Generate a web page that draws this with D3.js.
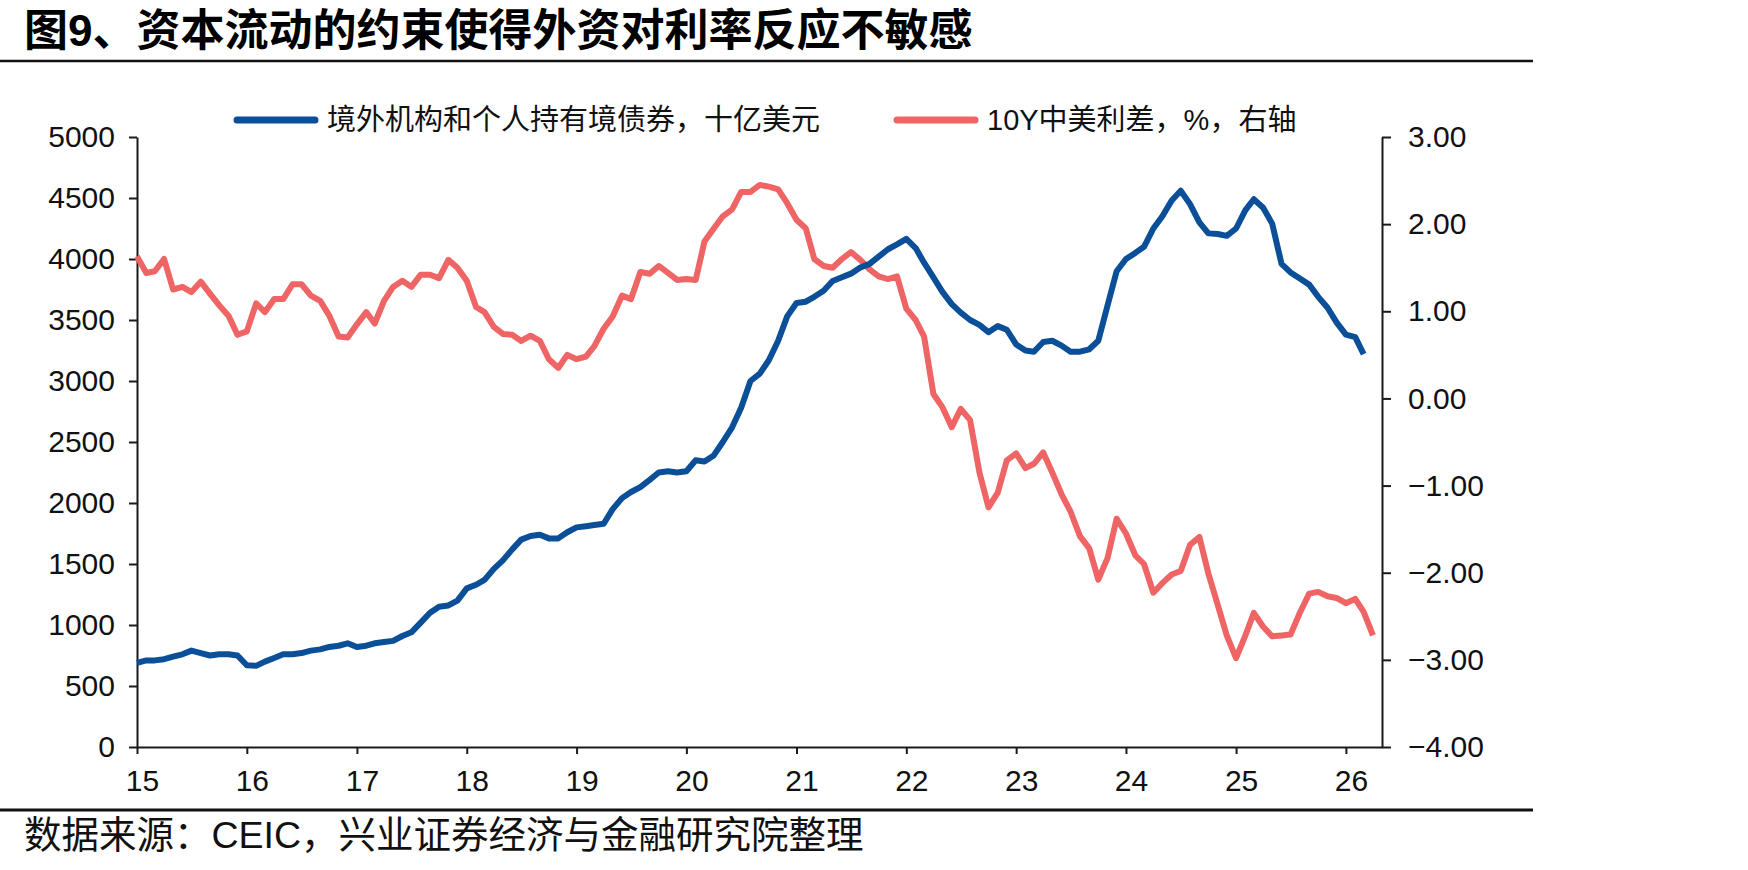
<!DOCTYPE html>
<html>
<head>
<meta charset="utf-8">
<script src="https://cdn.jsdelivr.net/npm/d3@7/dist/d3.min.js"></script>
<style>
  body { margin: 0; background: #fff; }
  text { font-family: "Liberation Sans", Arial, "Noto Sans CJK SC", sans-serif; }
</style>
</head>
<body>
<script>
// Chart data (monthly, starting Jan 2015)

let titleText = "图9、资本流动的约束使得外资对利率反应不敏感";
let sourceText = "数据来源：CEIC，兴业证券经济与金融研究院整理";
let seriesNames = ["境外机构和个人持有境债券，十亿美元", "10Y中美利差，%，右轴"];

// 境外机构和个人持有境债券，十亿美元 (left axis)
let holdings = [
  690, 710, 710, 720, 740, 760, 790, 770, 750, 760, 760, 750,   // 2015
  670, 665, 700, 730, 760, 760, 770, 790, 800, 820, 830, 850,   // 2016
  820, 830, 850, 860, 870, 910, 940, 1020, 1100, 1150, 1160, 1200, // 2017
  1300, 1330, 1370, 1460, 1530, 1620, 1700, 1730, 1740, 1710, 1710, 1760, // 2018
  1800, 1810, 1820, 1830, 1950, 2040, 2090, 2130, 2190, 2250, 2260, 2250, // 2019
  2260, 2350, 2340, 2390, 2500, 2620, 2780, 3000, 3060, 3170, 3330, 3530, // 2020
  3640, 3650, 3690, 3740, 3820, 3850, 3880, 3930, 3960, 4020, 4080, 4120, // 2021
  4165, 4090, 3970, 3850, 3730, 3630, 3560, 3500, 3460, 3400, 3450, 3420, // 2022
  3300, 3250, 3240, 3320, 3330, 3290, 3240, 3240, 3260, 3330, 3620, 3900, // 2023
  4000, 4050, 4100, 4250, 4350, 4480, 4560, 4450, 4300, 4210, 4205, 4190, // 2024
  4250, 4400, 4490, 4420, 4290, 3960, 3890, 3840, 3790, 3690, 3600, 3480, // 2025
  3380, 3360, 3220                                                        // 2026
];

// 10Y中美利差，% (right axis)
let spread = [
  1.63, 1.44, 1.46, 1.60, 1.25, 1.28, 1.22, 1.34, 1.20, 1.07, 0.95, 0.73, // 2015
  0.77, 1.09, 0.99, 1.14, 1.14, 1.31, 1.31, 1.18, 1.12, 0.95, 0.71, 0.70, // 2016
  0.85, 0.99, 0.86, 1.12, 1.28, 1.35, 1.28, 1.42, 1.42, 1.38, 1.59, 1.50, // 2017
  1.35, 1.05, 0.99, 0.82, 0.74, 0.73, 0.66, 0.72, 0.66, 0.45, 0.35, 0.50, // 2018
  0.45, 0.48, 0.60, 0.80, 0.94, 1.18, 1.14, 1.45, 1.43, 1.52, 1.44, 1.36, // 2019
  1.37, 1.36, 1.80, 1.95, 2.09, 2.17, 2.37, 2.37, 2.45, 2.43, 2.40, 2.24, // 2020
  2.05, 1.95, 1.60, 1.52, 1.50, 1.60, 1.68, 1.59, 1.48, 1.40, 1.37, 1.40, // 2021
  1.03, 0.90, 0.71, 0.05, -0.10, -0.33, -0.12, -0.25, -0.85, -1.25, -1.08, -0.71, // 2022
  -0.63, -0.80, -0.75, -0.62, -0.85, -1.10, -1.30, -1.58, -1.72, -2.08, -1.83, -1.38, // 2023
  -1.55, -1.80, -1.90, -2.23, -2.12, -2.02, -1.98, -1.68, -1.59, -2.01, -2.37, -2.72, // 2024
  -2.98, -2.72, -2.46, -2.62, -2.73, -2.72, -2.71, -2.46, -2.24, -2.22, -2.27, -2.29, // 2025
  -2.35, -2.30, -2.45, -2.72                                               // 2026
];

let yearTicks = [2015, 2016, 2017, 2018, 2019, 2020, 2021, 2022, 2023, 2024, 2025, 2026];
let leftTicks = [0, 500, 1000, 1500, 2000, 2500, 3000, 3500, 4000, 4500, 5000];
let rightTicks = [-4, -3, -2, -1, 0, 1, 2, 3];

let blue = "#0a4f98";
let red = "#ef6464";

// Set up the chart parameters

let svgWidth = 1748;
let svgHeight = 870;

let margin = { top: 137, right: 366, bottom: 123, left: 137 };
let width = svgWidth - margin.left - margin.right;
let height = svgHeight - margin.top - margin.bottom;

let svg = d3.select("body")
  .append("svg")
  .attr("width", svgWidth)
  .attr("height", svgHeight);

let chartGroup = svg.append("g")
  .attr("transform", `translate(${margin.left}, ${margin.top})`);

// month dates for each data point
let start = new Date(2015, 0, 1);
let monthOf = i => d3.timeMonth.offset(start, i);

// scales
let xTimeScale = d3.scaleTime()
  .domain([start, new Date(2026, 4, 1)])
  .range([0, width]);

let yLeftScale = d3.scaleLinear()
  .domain([0, 5000])
  .range([height, 0]);

let yRightScale = d3.scaleLinear()
  .domain([-4, 3])
  .range([height, 0]);

// axes
let bottomAxis = d3.axisBottom(xTimeScale)
  .tickValues(yearTicks.map(y => new Date(y, 0, 1)))
  .tickFormat(d3.timeFormat("%y"))
  .tickSizeInner(7)
  .tickSizeOuter(0)
  .tickPadding(16);

let leftAxis = d3.axisLeft(yLeftScale)
  .tickValues(leftTicks)
  .tickFormat(d3.format("d"))
  .tickSizeInner(8)
  .tickSizeOuter(0)
  .tickPadding(14);

let rightAxis = d3.axisRight(yRightScale)
  .tickValues(rightTicks)
  .tickFormat(d3.format(".2f"))
  .tickSizeInner(9)
  .tickSizeOuter(0)
  .tickPadding(17);

let xAxisG = chartGroup.append("g")
  .attr("transform", `translate(0, ${height})`)
  .call(bottomAxis);
xAxisG.selectAll(".tick text").attr("dx", 5);

let leftAxisG = chartGroup.append("g").call(leftAxis);

let rightAxisG = chartGroup.append("g")
  .attr("transform", `translate(${width}, 0)`)
  .call(rightAxis);

[xAxisG, leftAxisG, rightAxisG].forEach(g => {
  g.selectAll("path, line").attr("stroke", "#1a1a1a").attr("stroke-width", 2);
  g.selectAll("text")
    .attr("font-size", 30)
    .attr("fill", "#111")
    .style("font-family", '"Liberation Sans", Arial, sans-serif');
});

// lines
let holdingsLine = d3.line()
  .x((d, i) => xTimeScale(monthOf(i)))
  .y(d => yLeftScale(d));

let spreadLine = d3.line()
  .x((d, i) => xTimeScale(monthOf(i)))
  .y(d => yRightScale(d));

chartGroup.append("path")
  .datum(spread)
  .attr("d", spreadLine)
  .attr("fill", "none")
  .attr("stroke", red)
  .attr("stroke-width", 6)
  .attr("stroke-linejoin", "round");

chartGroup.append("path")
  .datum(holdings)
  .attr("d", holdingsLine)
  .attr("fill", "none")
  .attr("stroke", blue)
  .attr("stroke-width", 6)
  .attr("stroke-linejoin", "round");

// legend
let legendItems = [
  { name: seriesNames[0], color: blue, x: 237 },
  { name: seriesNames[1], color: red, x: 897 }
];

let legend = svg.selectAll(".legend")
  .data(legendItems)
  .enter().append("g")
  .attr("class", "legend")
  .attr("transform", d => `translate(${d.x}, 120)`);

legend.append("line")
  .attr("x1", 0).attr("x2", 78)
  .attr("y1", 0).attr("y2", 0)
  .attr("stroke", d => d.color)
  .attr("stroke-width", 7)
  .attr("stroke-linecap", "round");

legend.append("text")
  .attr("x", 90)
  .attr("y", 10)
  .attr("font-size", 29)
  .attr("fill", "#111")
  .text(d => d.name);

// title, rules and source
svg.append("text")
  .attr("x", 24)
  .attr("y", 46)
  .attr("font-size", 44)
  .attr("font-weight", "bold")
  .attr("fill", "#000")
  .text(titleText);

svg.append("line")
  .attr("x1", 0).attr("x2", 1533)
  .attr("y1", 61).attr("y2", 61)
  .attr("stroke", "#111")
  .attr("stroke-width", 2.5);

svg.append("line")
  .attr("x1", 0).attr("x2", 1533)
  .attr("y1", 810).attr("y2", 810)
  .attr("stroke", "#111")
  .attr("stroke-width", 3);

svg.append("text")
  .attr("x", 24)
  .attr("y", 848)
  .attr("font-size", 37.5)
  .attr("fill", "#111")
  .text(sourceText);
</script>
</body>
</html>
